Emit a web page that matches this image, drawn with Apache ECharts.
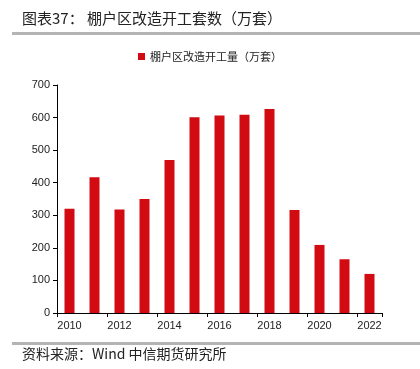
<!DOCTYPE html>
<html>
<head>
<meta charset="utf-8">
<script src="https://cdn.jsdelivr.net/npm/echarts@6/dist/echarts.min.js"></script>
<style>
html,body{margin:0;padding:0;background:#fff;}
#c{width:420px;height:369px;}
</style>
</head>
<body>
<div id="c"></div>
<script>
var categories = ['2010','2011','2012','2013','2014','2015','2016','2017','2018','2019','2020','2021','2022'];
var starts = [320, 417, 318, 350, 470, 601, 606, 609, 626, 316, 209, 165, 120];
var yTicks = [0, 100, 200, 300, 400, 500, 600, 700];
var seriesName = '棚户区改造开工量（万套）';
var titleText = '图表37： 棚户区改造开工套数（万套）';
var sourceText = '资料来源：Wind 中信期货研究所';

var chart = echarts.init(document.getElementById('c'), null, {renderer: 'canvas'});
chart.setOption({
  animation: false,
  backgroundColor: '#fff',
  graphic: [
    {type: 'text', left: 22, top: 11, style: {text: titleText, font: '15px "Noto Sans CJK SC"', fill: '#222'}},
    {type: 'rect', shape: {x: 12, y: 32, width: 408, height: 3}, style: {fill: '#b4b4b4'}},
    {type: 'rect', shape: {x: 12, y: 342, width: 408, height: 3}, style: {fill: '#b4b4b4'}},
    {type: 'text', left: 22, top: 347, style: {text: sourceText, font: '14px "Noto Sans CJK SC"', fill: '#222'}}
  ],
  legend: {
    top: 46, left: 'center',
    itemWidth: 7, itemHeight: 7, itemGap: 4,
    icon: 'rect',
    textStyle: {fontSize: 11, color: '#222', fontFamily: '"Noto Sans CJK SC"'},
    data: [seriesName]
  },
  grid: {left: 57, right: 38, top: 85, bottom: 56, containLabel: false},
  xAxis: {
    type: 'category',
    data: categories,
    axisLine: {lineStyle: {color: '#000', width: 1}},
    axisTick: {show: true, interval: 1, length: 4, lineStyle: {color: '#000'}},
    axisLabel: {interval: 1, color: '#222', fontSize: 11, fontFamily: '"Liberation Sans", Arial', margin: 7}
  },
  yAxis: {
    type: 'value',
    min: yTicks[0], max: yTicks[yTicks.length - 1], interval: 100,
    axisLine: {show: true, lineStyle: {color: '#000', width: 1}},
    axisTick: {show: true, length: 4, lineStyle: {color: '#000'}},
    axisLabel: {color: '#222', fontSize: 11, fontFamily: '"Liberation Sans", Arial', margin: 7},
    splitLine: {show: false}
  },
  series: [{
    name: seriesName,
    type: 'bar',
    data: starts,
    barWidth: 10,
    itemStyle: {color: '#d20a11'}
  }]
});
</script>
</body>
</html>
